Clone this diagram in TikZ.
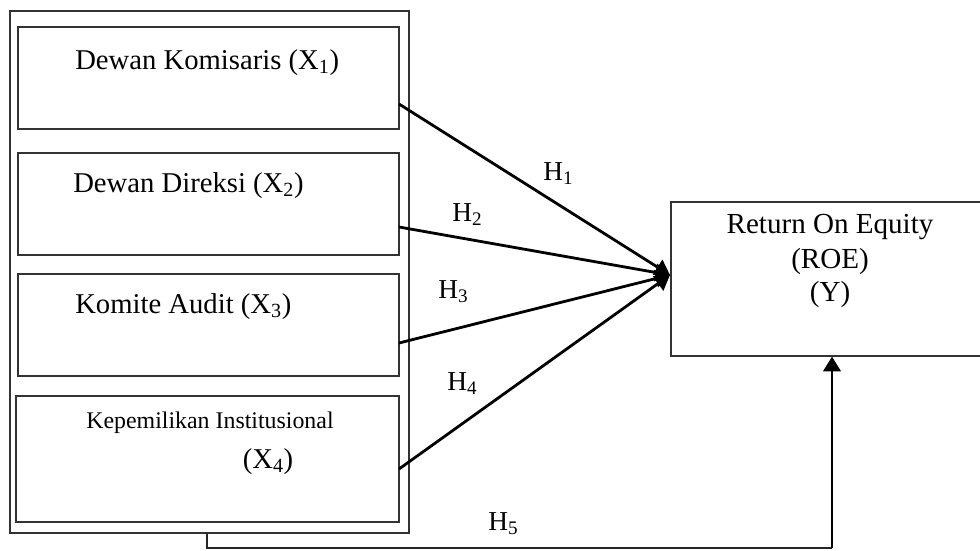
\documentclass[tikz,border=0pt]{standalone}
\usepackage{fontspec}
\setmainfont{Liberation Serif}
\usetikzlibrary{arrows.meta}
\begin{document}
\begin{tikzpicture}[x=0.75pt,y=-0.75pt,
  box/.style={draw=black!80, line width=0.9pt, inner sep=0pt},
  conn/.style={line width=2.1pt, -{Triangle[length=11pt,width=13pt]}},
  thinline/.style={draw=black!85, line width=0.9pt},
  big/.style={font=\fontsize{21.5}{24}\selectfont, inner sep=0pt},
  small/.style={font=\fontsize{17.9}{20}\selectfont, inner sep=0pt},
  hlbl/.style={font=\fontsize{20.5}{24}\selectfont, inner sep=0pt, anchor=base west},
  roet/.style={font=\fontsize{21.8}{24}\selectfont, inner sep=0pt, anchor=base}]
\useasboundingbox (0,0) rectangle (980,550);
\clip (0,0) rectangle (980,550);
% outer box
\node[box, minimum width=299.25pt, minimum height=391.5pt] (outer) at (209.5,272) {};
% inner boxes
\node[box, minimum width=285.75pt, minimum height=76.5pt] (b1) at (208.5,78) {};
\node[box, minimum width=285.75pt, minimum height=76.5pt] (b2) at (208.5,204) {};
\node[box, minimum width=285.75pt, minimum height=76.5pt] (b3) at (208.5,325) {};
\node[box, minimum width=287.25pt, minimum height=94.5pt] (b4) at (207.5,459) {};
% ROE box
\node[box, minimum width=240pt, minimum height=115.5pt] (roe) at (831,279) {};
% texts
\node[big, anchor=base west] (t1) at (75,69) {Dewan Komisaris (X\textsubscript{1})};
\node[big, anchor=base west] (t2) at (73,192) {Dewan Direksi (X\textsubscript{2})};
\node[big, anchor=base west] (t3) at (75,313) {Komite Audit (X\textsubscript{3})};
\node[small, anchor=base] (t4a) at (210,428) {Kepemilikan Institusional};
\node[big, anchor=base] (t4b) at (268,468) {(X\textsubscript{4})};
\node[roet] (r1) at (830,233) {Return On Equity};
\node[roet] (r2) at (830,268) {(ROE)};
\node[roet] (r3) at (830,301) {(Y)};
% hypothesis labels
\node[hlbl] (h1) at (543,180) {H\textsubscript{1}};
\node[hlbl] (h2) at (452,221) {H\textsubscript{2}};
\node[hlbl] (h3) at (438,298) {H\textsubscript{3}};
\node[hlbl] (h4) at (447,390) {H\textsubscript{4}};
\node[hlbl] (h5) at (488,530) {H\textsubscript{5}};
% connector endpoints
\coordinate (s1) at (399,104);
\coordinate (s2) at (399,227);
\coordinate (s3) at (399,343);
\coordinate (s4) at (399,469);
\coordinate (tip) at (670,275);
\coordinate (corner) at (832,548);
\draw[conn] (s1) -- (tip);
\draw[conn] (s2) -- (tip);
\draw[conn] (s3) -- (tip);
\draw[conn] (s4) -- (tip);
\draw[thinline] (outer.south -| 207,0) -- (207,548) -- (corner);
\draw[conn] (corner) -- (corner |- roe.south);
\end{tikzpicture}
\end{document}
